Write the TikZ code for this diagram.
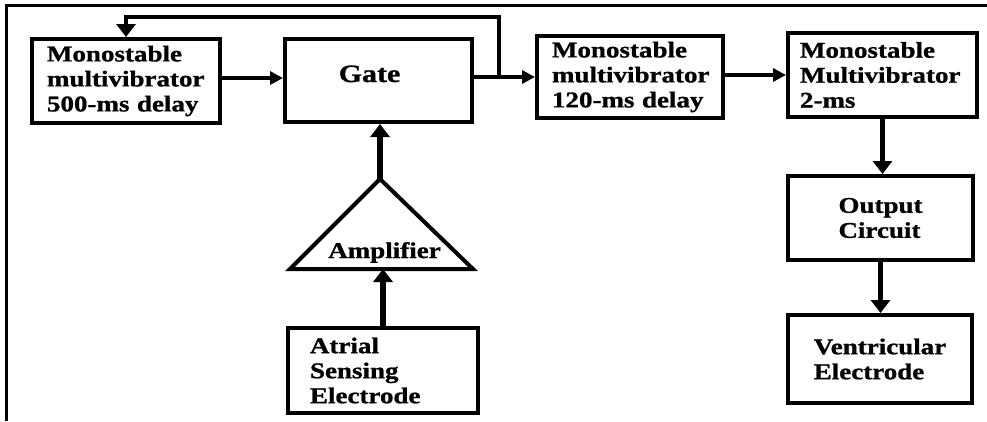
\documentclass[tikz,border=0pt]{standalone}
\usepackage{fontspec}
\setmainfont{Liberation Serif}[FakeStretch=1.2,FakeBold=1]
\usetikzlibrary{arrows.meta,calc}

\begin{document}
\begin{tikzpicture}[x=1pt,y=-1pt,
  txt/.style={font=\bfseries\fontsize{22.5}{25}\selectfont},
  blk/.style={draw, line width=4pt, inner sep=0pt, txt, align=left},
  harr/.style={line width=4pt, -{Triangle[length=13pt,width=13pt]}},
  varr/.style={line width=5.5pt, -{Triangle[length=13pt,width=19pt]}},
]
\useasboundingbox (0,0) rectangle (987,421);

% outer frame (top and left edges only)
\draw[line width=3pt] (6,421) -- (6,5) -- (987,5);

% blocks
\node[blk, minimum width=188pt, minimum height=84pt, text width=158pt] (m500) at (126,81)
  {Monostable\\multivibrator\\500-ms delay};
\node[blk, minimum width=187pt, minimum height=83pt,
      font=\bfseries\fontsize{25}{27}\selectfont] (gate) at (378.5,80.5)
  {\hspace*{-18pt}\raisebox{-1.5pt}[0pt][0pt]{Gate}};
\node[blk, minimum width=186pt, minimum height=82pt, text width=156pt] (m120) at (630,77)
  {Monostable\\multivibrator\\120-ms delay};
\node[blk, minimum width=189pt, minimum height=84pt, text width=165pt] (m2) at (882.5,75)
  {Monostable\\Multivibrator\\2-ms};
\node[blk, minimum width=185pt, minimum height=84pt] (out) at (880.5,218)
  {Output\\Circuit};
\node[blk, minimum width=184pt, minimum height=88pt] (vent) at (880,359)
  {Ventricular\\Electrode};
\node[blk, minimum width=190pt, minimum height=85pt, text width=146pt] (atrial) at (383,370.5)
  {Atrial\\Sensing\\Electrode};

% amplifier triangle
\coordinate (amptop) at (380,179);
\coordinate (ampL) at (290,269);
\coordinate (ampR) at (473,269);
\draw[line width=4pt, line join=miter] (amptop) -- (ampR) -- (ampL) -- cycle;
\node[txt, anchor=base] (amptext) at (384.5,258) {Amplifier};

% signal path
\draw[harr] ([yshift=3pt]m500.east) -- ([yshift=3pt]m500.east -| gate.west);
\draw[harr] (gate.east |- m120.west) -- (m120.west);
\draw[harr] (m120.east |- m2.west) -- (m2.west);
\draw[varr] (m2.south) -- (m2.south |- out.north);
\draw[varr] (out.south) -- (out.south |- vent.north);
\draw[varr] (atrial.north) -- (atrial.north |- ampL);
\draw[varr] (amptop) -- (amptop |- gate.south);

% feedback from the gate output to the 500-ms stage
\coordinate (split) at ($(gate.east |- m120.west)+(25,0)$);
\draw[line width=4.5pt, -{Triangle[length=13pt,width=19pt]}]
  (split) -- ++(0,-60) -| (m500.north);
\end{tikzpicture}
\end{document}
